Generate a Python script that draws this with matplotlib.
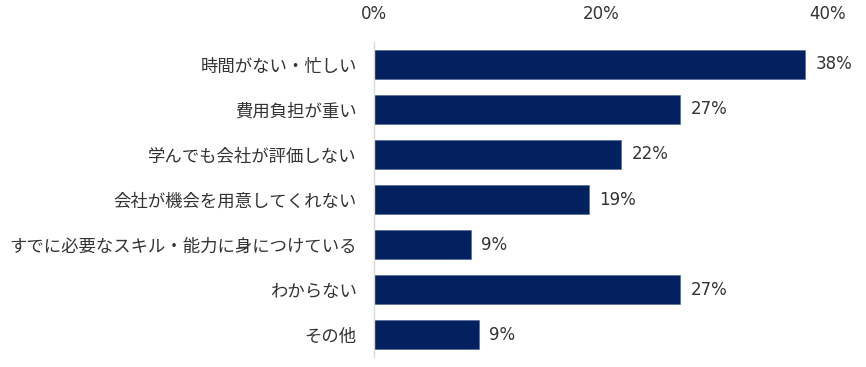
import matplotlib
matplotlib.use("Agg")
import matplotlib.pyplot as plt

plt.rcParams['font.family'] = ['Noto Sans CJK JP', 'DejaVu Sans']

# data
categories = ['時間がない・忙しい', '費用負担が重い', '学んでも会社が評価しない',
              '会社が機会を用意してくれない', 'すでに必要なスキル・能力に身につけている',
              'わからない', 'その他']
values = [38.0, 27.0, 21.8, 19.0, 8.6, 27.0, 9.3]
value_labels = ['38%', '27%', '22%', '19%', '9%', '27%', '9%']
x_ticks = [0, 20, 40]

bar_color = '#03215F'
text_color = '#333333'

fig = plt.figure(figsize=(8.66, 3.67), dpi=100)
ax = fig.add_axes([0.4313, 0.0272, 0.5248, 0.8584])

ypos = list(range(len(categories)))
ax.barh(ypos, values, height=0.66, color=bar_color, edgecolor='#4a6090', linewidth=0.4)

for y, v, lab in zip(ypos, values, value_labels):
    ax.text(v + 0.9, y, lab, va='center', ha='left', fontsize=12,
            color=text_color, family='DejaVu Sans')

ax.set_xlim(0, 40)
ax.set_ylim(6.5, -0.5)
ax.set_yticks(ypos)
ax.set_yticklabels(categories, fontsize=12.5, color=text_color)
ax.set_xticks(x_ticks)
ax.set_xticklabels([f'{t}%' for t in x_ticks], fontsize=12, color=text_color,
                   family='DejaVu Sans')
ax.xaxis.tick_top()
ax.tick_params(axis='x', length=0, pad=14)
ax.tick_params(axis='y', length=0, pad=12)

for s in ['top', 'right', 'bottom']:
    ax.spines[s].set_visible(False)
ax.spines['left'].set_color('#d9d9d9')
ax.spines['left'].set_linewidth(1)

fig.savefig('out.png', dpi=100)
